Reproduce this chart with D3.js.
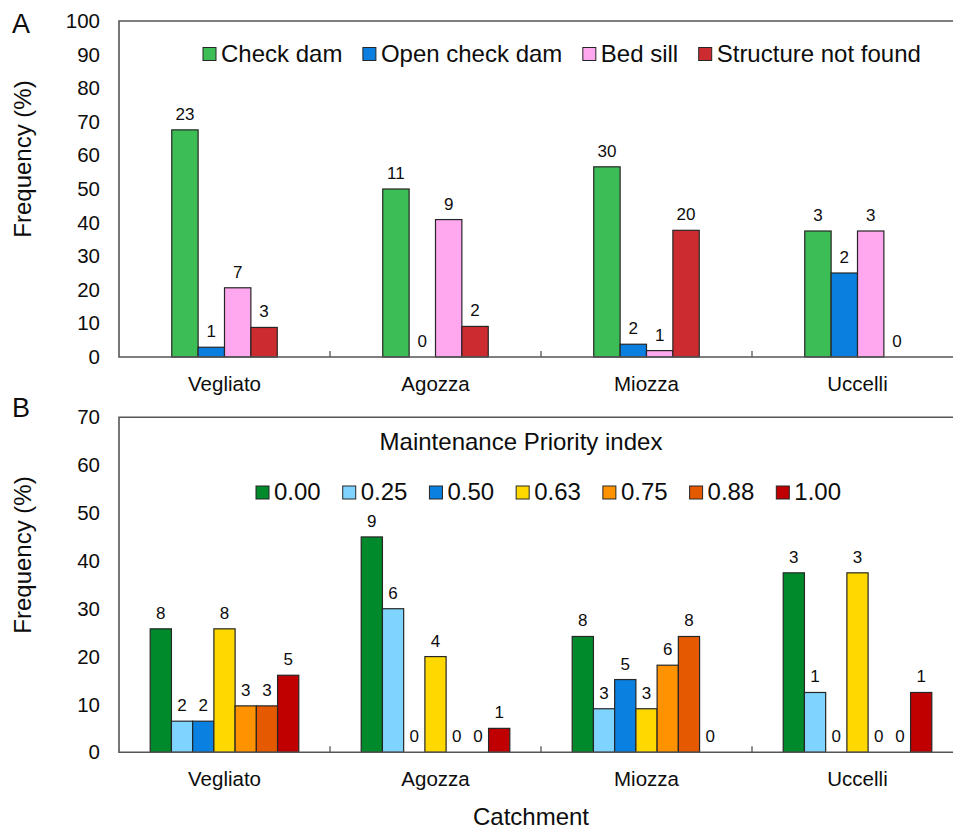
<!DOCTYPE html>
<html>
<head>
<meta charset="utf-8">
<script src="https://cdn.jsdelivr.net/npm/d3@7"></script>
<style>
  body { margin: 0; background: #fff; }
  svg { display: block; font-family: "Liberation Sans", Arial, sans-serif; }
</style>
</head>
<body>
<svg id="chart" width="953" height="829"></svg>
<script>
// catchments shared by both panels
const catchments = ['Vegliato', 'Agozza', 'Miozza', 'Uccelli'];

// panel A: structure type
const typeNames = ['Check dam', 'Open check dam', 'Bed sill', 'Structure not found'];
const typeColors = ['#3dbd55', '#0a7fe0', '#ffa8ef', '#cc2b2f'];
const checkDamPct = [67.6, 50.0, 56.6, 37.5];
const openCheckDamPct = [2.9, 0, 3.8, 25.0];
const bedSillPct = [20.6, 40.9, 1.9, 37.5];
const notFoundPct = [8.8, 9.1, 37.7, 0];
const checkDamN = [23, 11, 30, 3];
const openCheckDamN = [1, 0, 2, 2];
const bedSillN = [7, 9, 1, 3];
const notFoundN = [3, 2, 20, 0];
const ticksA = [0, 10, 20, 30, 40, 50, 60, 70, 80, 90, 100];

// panel B: maintenance priority index
const mpiNames = ['0.00', '0.25', '0.50', '0.63', '0.75', '0.88', '1.00'];
const mpiColors = ['#008a2c', '#7fd4ff', '#0a80e0', '#ffd800', '#ff9200', '#e55a00', '#c00000'];
const mpi000Pct = [25.8, 45.0, 24.2, 37.5];
const mpi025Pct = [6.5, 30.0, 9.1, 12.5];
const mpi050Pct = [6.5, 0, 15.2, 0];
const mpi063Pct = [25.8, 20.0, 9.1, 37.5];
const mpi075Pct = [9.7, 0, 18.2, 0];
const mpi088Pct = [9.7, 0, 24.2, 0];
const mpi100Pct = [16.1, 5.0, 0, 12.5];
const mpi000N = [8, 9, 8, 3];
const mpi025N = [2, 6, 3, 1];
const mpi050N = [2, 0, 5, 0];
const mpi063N = [8, 4, 3, 3];
const mpi075N = [3, 0, 6, 0];
const mpi088N = [3, 0, 8, 0];
const mpi100N = [5, 1, 0, 1];
const ticksB = [0, 10, 20, 30, 40, 50, 60, 70];

const svg = d3.select('#chart');
const axisColor = '#555';
const textColor = '#0d0d0d';
const left = 119, right = 963;

function drawPanel(opt) {
  const g = svg.append('g');

  const x = d3.scaleBand().domain(catchments).range([left, right]);
  const xs = d3.scaleBand().domain(opt.names).range([0, x.bandwidth()])
    .paddingOuter(opt.outer);
  const y = d3.scaleLinear().domain([0, opt.max]).range([opt.bottom, opt.top]);

  // y axis labels
  const yAxis = g.append('g')
    .attr('transform', `translate(${left},0)`)
    .call(d3.axisLeft(y).tickValues(opt.ticks).tickSize(0).tickPadding(19));
  yAxis.select('.domain').remove();
  yAxis.selectAll('text').attr('font-size', 20.5).attr('fill', textColor)
    .attr('font-family', '"Liberation Sans", Arial, sans-serif');

  // category labels
  const xAxis = g.append('g')
    .attr('transform', `translate(0,${opt.bottom})`)
    .call(d3.axisBottom(x).tickSize(0).tickPadding(19));
  xAxis.select('.domain').remove();
  xAxis.selectAll('text').attr('font-size', 20.5).attr('fill', textColor)
    .attr('font-family', '"Liberation Sans", Arial, sans-serif');

  // bars
  const rows = [];
  opt.names.forEach((s, i) => {
    catchments.forEach((c, j) => {
      rows.push({ s, c, v: opt.values[i][j], n: opt.counts[i][j], col: opt.colors[i] });
    });
  });

  g.selectAll('rect.bar')
    .data(rows.filter(d => d.v > 0))
    .enter().append('rect')
    .attr('class', 'bar')
    .attr('x', d => x(d.c) + xs(d.s))
    .attr('y', d => y(d.v))
    .attr('width', xs.bandwidth())
    .attr('height', d => y(0) - y(d.v))
    .attr('fill', d => d.col)
    .attr('stroke', '#262626')
    .attr('stroke-width', 1.2);

  g.selectAll('text.val')
    .data(rows)
    .enter().append('text')
    .attr('class', 'val')
    .attr('x', d => x(d.c) + xs(d.s) + xs.bandwidth() / 2)
    .attr('y', d => y(d.v) - 10)
    .attr('text-anchor', 'middle')
    .attr('font-size', 17)
    .attr('fill', textColor)
    .text(d => d.n);

  // frame: left, top, bottom
  g.append('path')
    .attr('d', `M${right},${opt.top}H${left}V${opt.bottom}H${right}`)
    .attr('fill', 'none')
    .attr('stroke', axisColor)
    .attr('stroke-width', 1.6);

  // category separator ticks
  g.selectAll('line.sep')
    .data(catchments.slice(0, 3))
    .enter().append('line')
    .attr('x1', d => x(d) + x.bandwidth())
    .attr('x2', d => x(d) + x.bandwidth())
    .attr('y1', opt.bottom)
    .attr('y2', opt.bottom - 6)
    .attr('stroke', axisColor)
    .attr('stroke-width', 1.3);

  // y title
  g.append('text')
    .attr('transform', `translate(31,${opt.ylabelY}) rotate(-90)`)
    .attr('text-anchor', 'middle')
    .attr('font-size', 24)
    .attr('fill', textColor)
    .text('Frequency (%)');

  // panel letter
  g.append('text')
    .attr('x', 12)
    .attr('y', opt.letterY)
    .attr('font-size', 27)
    .attr('fill', textColor)
    .text(opt.letter);

  // legend
  const leg = g.append('g');
  let lx = opt.legX;
  opt.names.forEach((s, i) => {
    leg.append('rect')
      .attr('x', lx).attr('y', opt.legY - 14)
      .attr('width', 13).attr('height', 13)
      .attr('fill', opt.colors[i])
      .attr('stroke', '#262626')
      .attr('stroke-width', 1);
    const t = leg.append('text')
      .attr('x', lx + 18).attr('y', opt.legY)
      .attr('font-size', 24)
      .attr('fill', textColor)
      .text(s);
    lx += 18 + t.node().getComputedTextLength() + opt.legGap;
  });
}

drawPanel({
  names: typeNames, colors: typeColors,
  values: [checkDamPct, openCheckDamPct, bedSillPct, notFoundPct],
  counts: [checkDamN, openCheckDamN, bedSillN, notFoundN],
  max: 100, ticks: ticksA, top: 21, bottom: 357, outer: 2,
  ylabelY: 159, letter: 'A', letterY: 33,
  legX: 203, legY: 61.5, legGap: 20.5
});

drawPanel({
  names: mpiNames, colors: mpiColors,
  values: [mpi000Pct, mpi025Pct, mpi050Pct, mpi063Pct, mpi075Pct, mpi088Pct, mpi100Pct],
  counts: [mpi000N, mpi025N, mpi050N, mpi063N, mpi075N, mpi088N, mpi100N],
  max: 70, ticks: ticksB, top: 417.3, bottom: 752.3, outer: 1.47,
  ylabelY: 555, letter: 'B', letterY: 417,
  legX: 256, legY: 500, legGap: 22
});

svg.append('text')
  .attr('x', 521).attr('y', 450)
  .attr('text-anchor', 'middle')
  .attr('font-size', 24)
  .attr('fill', textColor)
  .text('Maintenance Priority index');

svg.append('text')
  .attr('x', 531).attr('y', 825)
  .attr('text-anchor', 'middle')
  .attr('font-size', 24)
  .attr('fill', textColor)
  .text('Catchment');
</script>
</body>
</html>
